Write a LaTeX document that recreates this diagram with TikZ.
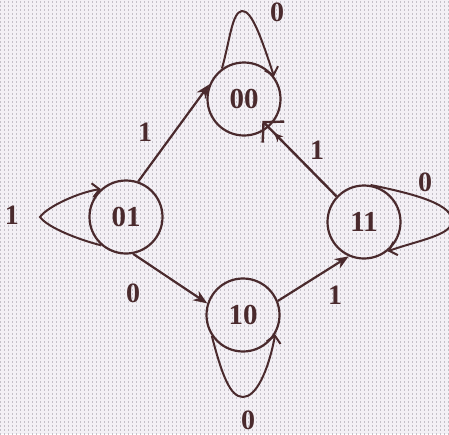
\documentclass[tikz,border=0pt]{standalone}
\usepackage{fontspec}
\setmainfont{Liberation Serif}
\usetikzlibrary{arrows.meta}
\definecolor{paper}{HTML}{F3F0F5}
\definecolor{dotgray}{HTML}{C4C0C8}
\definecolor{ink}{HTML}{4A2A2D}
\newcommand\stfont{\bfseries\fontsize{29}{29}\selectfont}
\newcommand\lbfont{\bfseries\fontsize{28}{28}\selectfont}
\begin{document}
\begin{tikzpicture}[x=1pt,y=-1pt,
  state/.style={circle, draw=ink, line width=2.2pt, minimum size=73pt,
    inner sep=0pt, text=ink, font=\stfont},
  edge/.style={draw=ink, line width=2.2pt, -{Stealth[length=14pt,width=11pt]}},
  backedge/.style={draw=ink, line width=2.4pt,
    -{Stealth[length=9pt,width=8pt] Straight Barb[length=14pt,width=30pt,sep=-9pt]}},
  loopedge/.style={draw=ink, line width=2pt, -{Straight Barb[length=7pt,width=14pt]}},
  lbl/.style={text=ink, font=\lbfont, inner sep=0pt}]
% paper with a fine dot grid
\useasboundingbox (0,0) rectangle (449,434);
\fill[paper] (0,0) rectangle (449,434);
\foreach \yy in {2,6,...,434}
  \draw[dotgray, line width=1.1pt, dash pattern=on 1.1pt off 2.9pt] (0,\yy) -- (449,\yy);

% states
\node[state] (s00) at (244,99) {00};
\node[state] (s01) at (126,217) {01};
\node[state] (s10) at (243,315) {10};
\node[state] (s11) at (364,222) {11};

% transitions between states
\draw[edge] (s01.71) -- (s00.157);
\draw[edge] (s01.281) -- (s10.162);
\draw[edge] (s10.22) -- (s11.246);
\draw[backedge] (s11.137) -- (s00.311);

% self loops (teardrop shaped)
\draw[loopedge] (s00.126) .. controls (230,40) and (232,12) .. (242,11)
  .. controls (252,10) and (262,40) .. (s00.37);
\draw[loopedge] (s01.229) .. controls (80,240) and (48,228) .. (40,217)
  .. controls (48,206) and (80,192) .. (s01.132);
\draw[loopedge] (s10.214) .. controls (222,375) and (230,397) .. (243,397)
  .. controls (256,397) and (268,372) .. (s10.329);
\draw[loopedge] (s11.80) .. controls (420,195) and (452,205) .. (452,221)
  .. controls (452,235) and (420,240) .. (s11.309);

% input labels
\node[lbl] (a1) at (145,132) {1};
\node[lbl] (a2) at (133,293) {0};
\node[lbl] (a3) at (335,295) {1};
\node[lbl] (a4) at (317,150) {1};
\node[lbl] (a5) at (277,12) {0};
\node[lbl] (a6) at (12,215) {1};
\node[lbl] (a7) at (248,420) {0};
\node[lbl] (a8) at (425,182) {0};
\end{tikzpicture}
\end{document}
